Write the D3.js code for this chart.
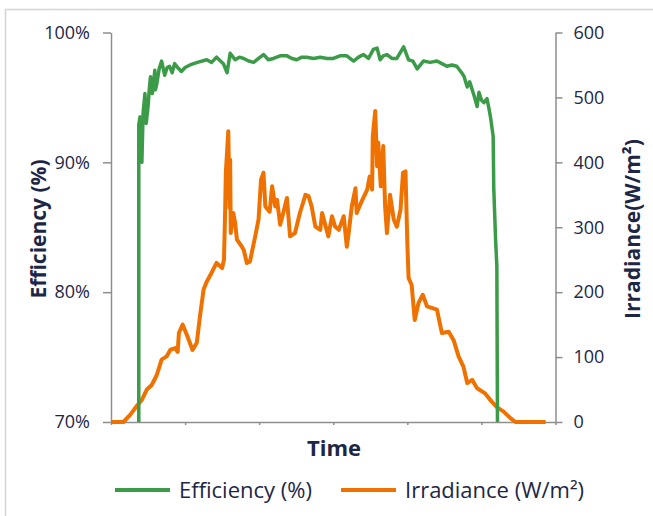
<!DOCTYPE html>
<html>
<head>
<meta charset="utf-8">
<script src="https://cdn.jsdelivr.net/npm/d3@7"></script>
<style>
  body { margin: 0; background: #fff; }
  text { font-family: "Open Sans", "Noto Sans", sans-serif; fill: #1d2745; }
</style>
</head>
<body>
<div id="chart"></div>
<script>
// time in minutes after start of the day window
const effTime = [45, 45, 47, 50, 52, 55, 57, 60, 62, 64, 67, 69, 71, 72, 74, 78, 82, 87, 91, 95, 99, 103, 108, 114, 120, 128, 140, 155, 163, 171, 182, 188, 193, 201, 208, 215, 223, 231, 239, 247, 255, 263, 274, 285, 293, 301, 309, 317, 328, 339, 350, 360, 371, 382, 393, 401, 409, 417, 425, 431, 436, 441, 447, 455, 463, 474, 482, 489, 496, 506, 517, 528, 536, 544, 552, 560, 568, 572, 577, 581, 585, 589, 593, 596, 600, 604, 609, 612, 615, 619, 620, 623, 625, 626];
const effValue = [70, 92.9, 93.5, 90.0, 93.8, 95.3, 93.0, 94.3, 95.6, 96.6, 95.3, 96.2, 97.1, 95.6, 96.0, 97.2, 97.8, 96.7, 97.3, 97.4, 96.9, 97.6, 97.3, 97.0, 97.3, 97.5, 97.7, 97.9, 97.7, 98.1, 97.6, 96.9, 98.4, 97.9, 98.1, 98.0, 97.8, 97.7, 98.0, 98.3, 97.9, 98.0, 98.2, 98.2, 98.0, 97.9, 98.1, 98.1, 98.0, 98.1, 98.0, 98.0, 98.2, 98.2, 97.8, 98.1, 98.3, 98.0, 98.7, 98.8, 97.9, 98.2, 98.3, 98.0, 98.0, 98.9, 97.9, 97.8, 97.2, 97.8, 97.7, 97.8, 97.6, 97.4, 97.5, 97.4, 96.9, 96.6, 95.8, 96.2, 95.6, 95.0, 94.3, 95.4, 94.8, 94.6, 94.9, 94.2, 93.4, 92.0, 88, 84, 82, 70];

const irrTime = [0, 20, 31, 42, 50, 58, 66, 74, 82, 90, 96, 104, 108, 110, 116, 123, 132, 139, 144, 150, 155, 163, 171, 180, 183, 185, 186, 190, 192, 193, 194, 198, 201, 204, 212, 215, 220, 225, 234, 239, 243, 247, 250, 257, 261, 266, 269, 274, 279, 285, 290, 298, 306, 315, 320, 325, 331, 339, 342, 347, 352, 358, 363, 369, 377, 382, 385, 390, 396, 398, 406, 415, 419, 423, 424, 428, 431, 433, 437, 441, 444, 447, 452, 458, 463, 469, 473, 477, 480, 482, 487, 492, 498, 505, 512, 528, 536, 547, 555, 563, 571, 577, 585, 593, 606, 617, 625, 636, 647, 655, 704];
const irrValue = [0, 0, 11, 25, 34, 50, 57, 72, 96, 101, 111, 114, 108, 137, 150, 134, 111, 122, 162, 204, 216, 230, 245, 237, 250, 330, 384, 448, 330, 404, 291, 322, 307, 281, 270, 265, 245, 247, 288, 312, 373, 384, 332, 324, 363, 332, 342, 304, 322, 345, 286, 291, 322, 350, 348, 332, 301, 296, 322, 304, 286, 317, 301, 296, 317, 270, 291, 332, 360, 322, 340, 358, 378, 358, 440, 479, 394, 430, 363, 425, 332, 291, 350, 312, 301, 327, 384, 386, 276, 222, 211, 157, 183, 196, 178, 173, 137, 139, 126, 101, 85, 60, 65, 52, 44, 31, 23, 16, 6, 0, 0];

const xTicks = [0, 120, 240, 360, 480, 600, 720];
const effTicks = [70, 80, 90, 100];
const irrTicks = [0, 100, 200, 300, 400, 500, 600];

const width = 653;
const height = 516;
const margin = { top: 32.5, right: 97.5, bottom: 94, left: 111 };
const innerW = width - margin.left - margin.right;
const innerH = height - margin.top - margin.bottom;

const green = "#3c9b48";
const orange = "#ef7200";
const axisGrey = "#8e8e8e";

const svg = d3.select("#chart").append("svg")
    .attr("width", width)
    .attr("height", height);

// outer border
svg.append("rect")
    .attr("x", 5.5).attr("y", 9.5)
    .attr("width", 660).attr("height", 530)
    .attr("fill", "none")
    .attr("stroke", "#d4d4d4")
    .attr("stroke-width", 1.5);

const g = svg.append("g")
    .attr("transform", `translate(${margin.left},${margin.top})`);

const x = d3.scaleLinear().domain([0, 720]).range([0, innerW]);
const yL = d3.scaleLinear().domain([70, 100]).range([innerH, 0]);
const yR = d3.scaleLinear().domain([0, 600]).range([innerH, 0]);

// axes
const styleAxis = sel => {
    sel.selectAll("path, line").attr("stroke", axisGrey).attr("stroke-width", 1.5);
    sel.selectAll("text").style("font-size", "18px").attr("fill", "#1d2745");
    sel.attr("font-family", null);
};

g.append("g")
    .call(d3.axisLeft(yL).tickValues(effTicks).tickFormat(d => d + "%").tickSizeInner(8).tickSizeOuter(0).tickPadding(13))
    .call(styleAxis);

g.append("g")
    .attr("transform", `translate(${innerW},0)`)
    .call(d3.axisRight(yR).tickValues(irrTicks).tickSizeInner(7).tickSizeOuter(0).tickPadding(11))
    .call(styleAxis);

g.append("g")
    .attr("transform", `translate(0,${innerH})`)
    .call(d3.axisBottom(x).tickValues(xTicks).tickFormat("").tickSizeInner(3).tickSizeOuter(0))
    .call(styleAxis);

// lines
const irrData = irrTime.map((t, i) => ({ t, v: irrValue[i] }));
const effData = effTime.map((t, i) => ({ t, v: effValue[i] }));

g.append("path")
    .datum(irrData)
    .attr("fill", "none")
    .attr("stroke", orange)
    .attr("stroke-width", 4)
    .attr("stroke-linejoin", "round")
    .attr("d", d3.line().x(d => x(d.t)).y(d => yR(d.v)));

g.append("path")
    .datum(effData)
    .attr("fill", "none")
    .attr("stroke", green)
    .attr("stroke-width", 3.5)
    .attr("stroke-linejoin", "round")
    .attr("d", d3.line().x(d => x(d.t)).y(d => yL(d.v)));

// axis titles
svg.append("text")
    .attr("x", 334)
    .attr("y", 456)
    .attr("text-anchor", "middle")
    .style("font-size", "22px")
    .style("font-weight", "bold")
    .text("Time");

svg.append("text")
    .attr("transform", "translate(46,229) rotate(-90)")
    .attr("text-anchor", "middle")
    .style("font-size", "21px")
    .style("font-weight", "bold")
    .text("Efficiency (%)");

svg.append("text")
    .attr("transform", "translate(640,229) rotate(-90)")
    .attr("text-anchor", "middle")
    .style("font-size", "21px")
    .style("font-weight", "bold")
    .text("Irradiance(W/m²)");

// legend
const legend = [
    { label: "Efficiency (%)", color: green, x: 115 },
    { label: "Irradiance (W/m²)", color: orange, x: 341 }
];
const lg = svg.selectAll(".legend").data(legend).enter().append("g")
    .attr("transform", d => `translate(${d.x},490)`);
lg.append("line")
    .attr("x1", 0).attr("x2", 55)
    .attr("stroke", d => d.color)
    .attr("stroke-width", 4);
lg.append("text")
    .attr("x", 64)
    .attr("dy", "0.35em")
    .style("font-size", "22px")
    .text(d => d.label);
</script>
</body>
</html>
